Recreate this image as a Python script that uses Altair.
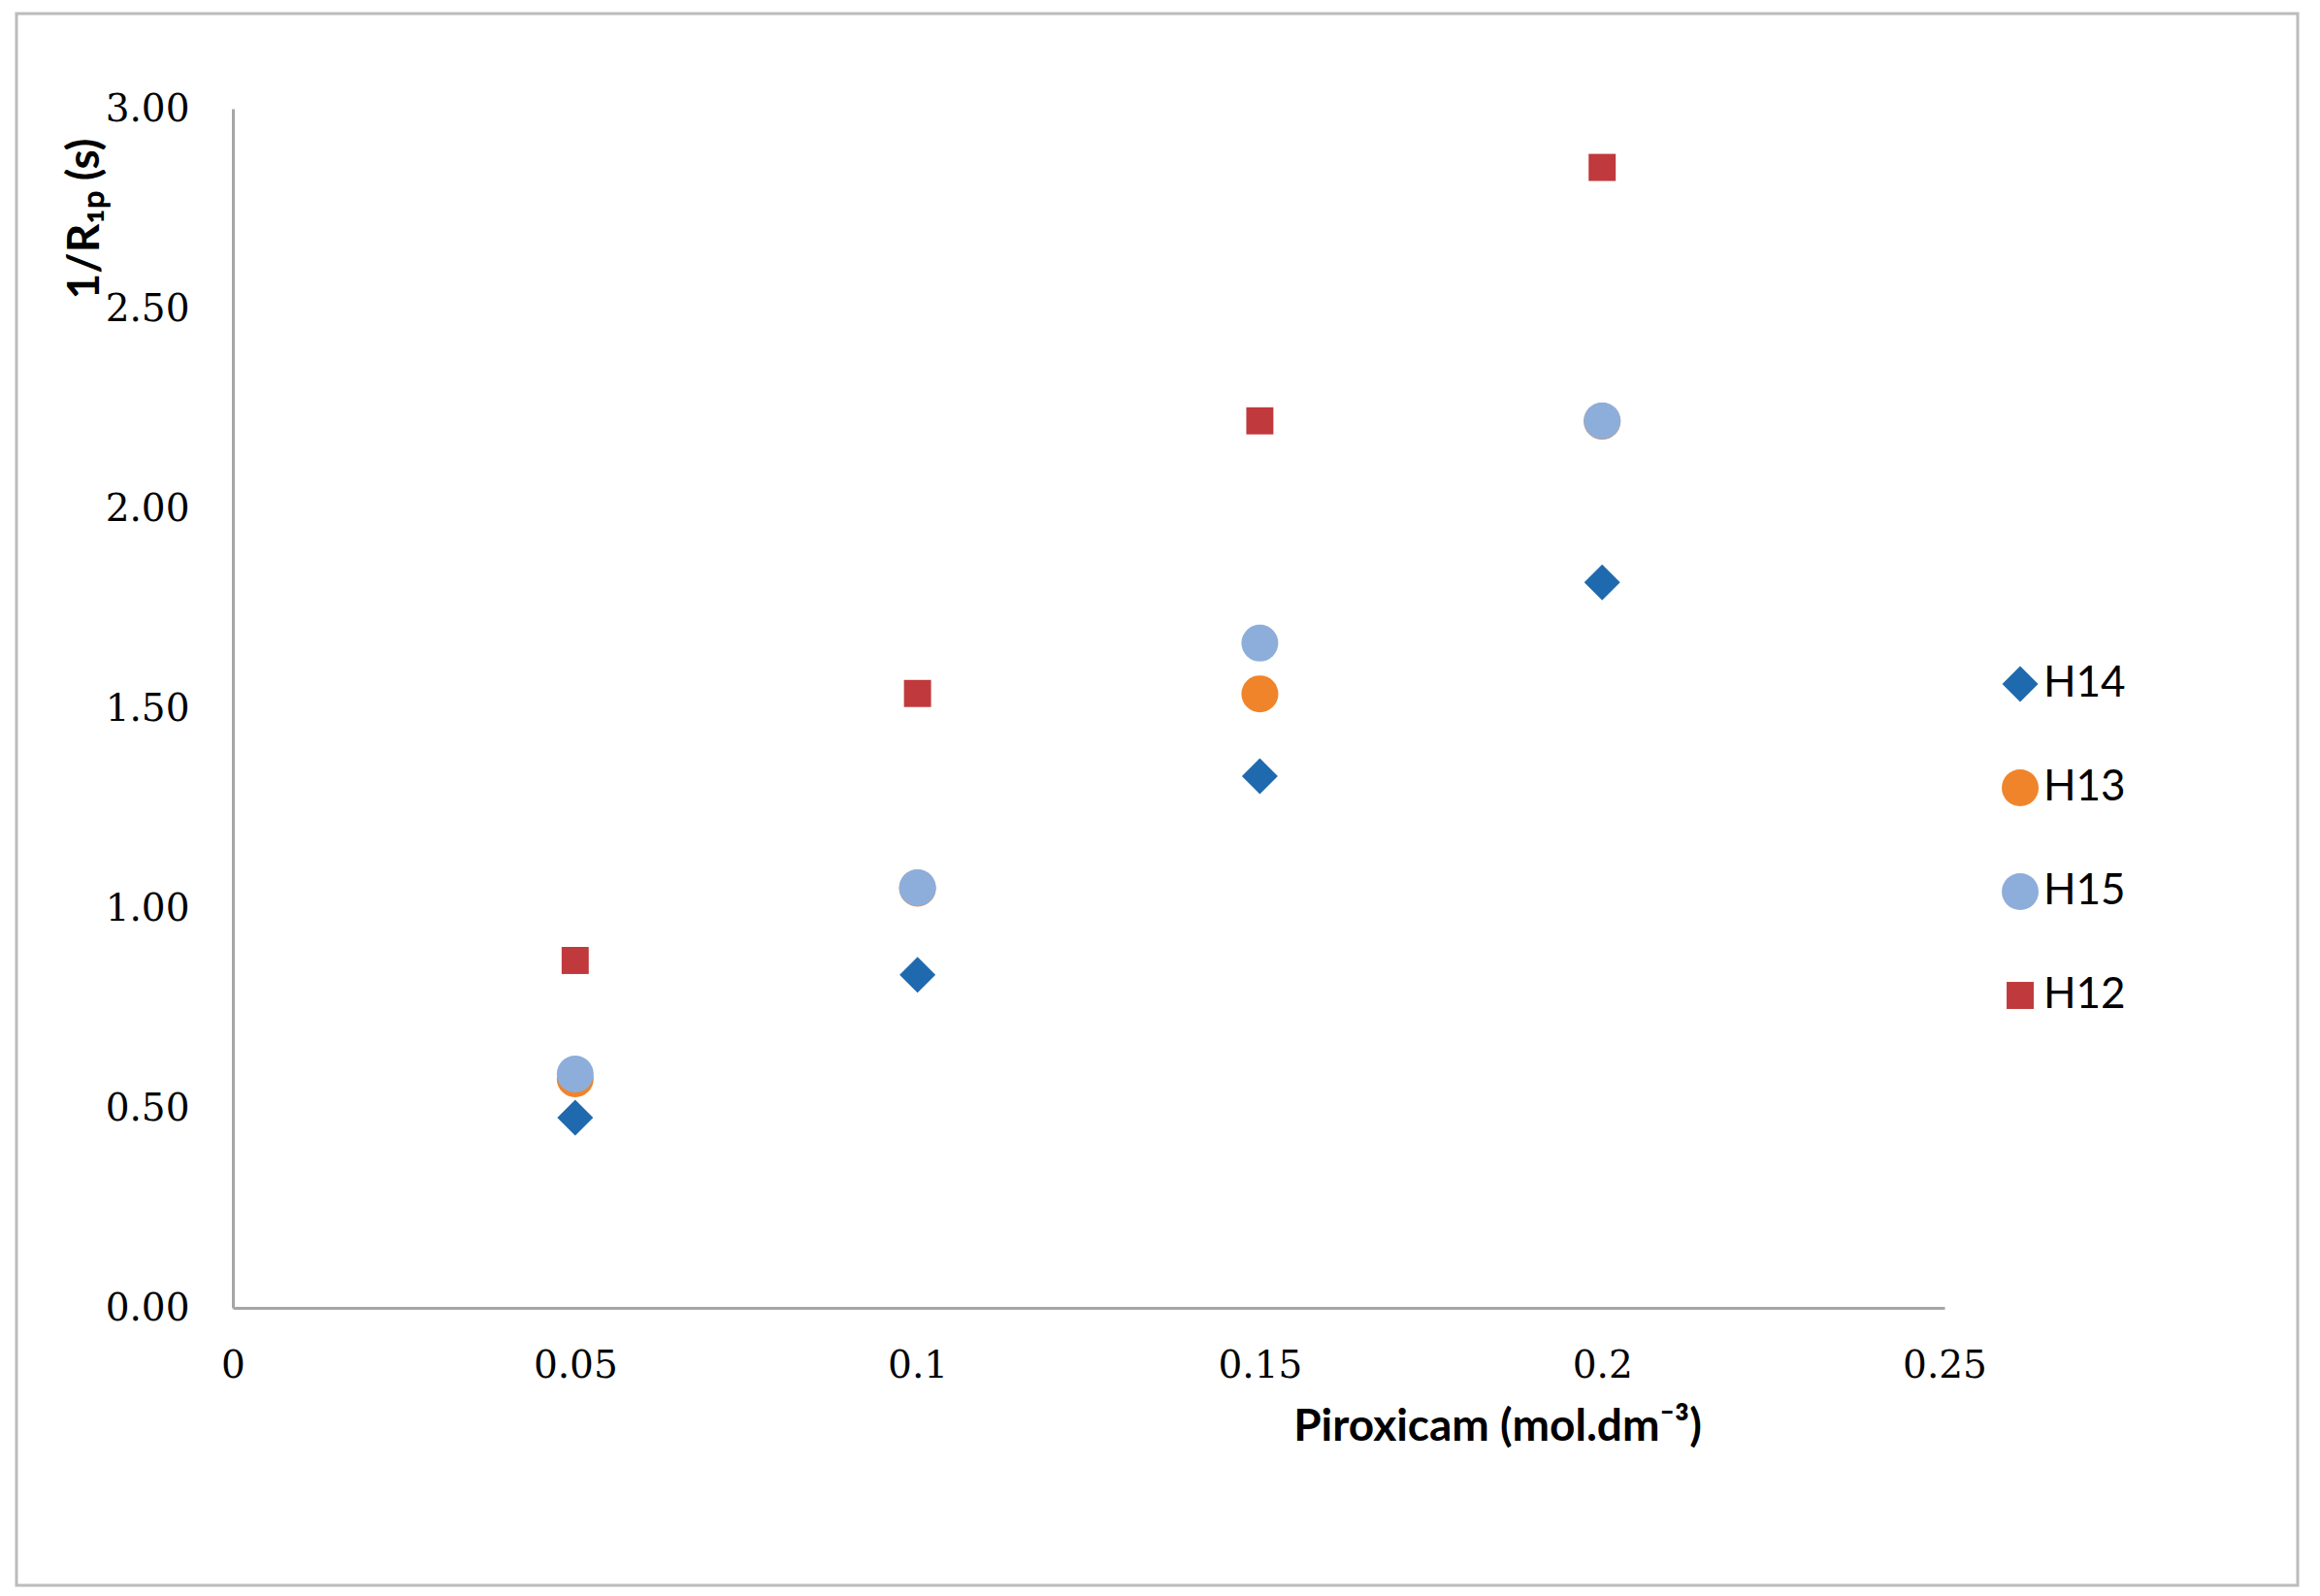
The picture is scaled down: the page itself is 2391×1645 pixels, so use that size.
import altair as alt
import pandas as pd

# ---- data ----
x_vals = [0.05, 0.10, 0.15, 0.20]
series_names = ["H14", "H13", "H15", "H12"]
h14 = [0.476, 0.833, 1.330, 1.815]
h13 = [0.573, 1.050, 1.536, 2.218]
h15 = [0.585, 1.051, 1.663, 2.219]
h12 = [0.869, 1.537, 2.219, 2.853]
x_ticks = [0, 0.05, 0.1, 0.15, 0.2, 0.25]
y_ticks = [0, 0.5, 1.0, 1.5, 2.0, 2.5, 3.0]

colors = ["#1F6AAE", "#F0842A", "#8DAEDB", "#C0393C"]
shapes = ["diamond", "circle", "circle", "square"]
sizes = [1369, 1444, 1444, 780]

rows = []
for si, (name, vals) in enumerate(zip(series_names, [h14, h13, h15, h12])):
    for xv, yv in zip(x_vals, vals):
        rows.append({"conc": xv, "val": yv, "series": name, "ord": si})
df = pd.DataFrame(rows)

legend = alt.Legend(
    orient="none", legendX=1820, legendY=571, title=None,
    symbolSize=1000, symbolStrokeWidth=0, symbolOpacity=1,
    labelFont="Lato", labelFontSize=44, labelColor="#000000",
    rowPadding=63, labelOffset=2, padding=0,
)

points = alt.Chart(df).mark_point(filled=True, opacity=1, strokeWidth=0).encode(
    x=alt.X("conc:Q",
            scale=alt.Scale(domain=[0, 0.25], nice=False),
            axis=alt.Axis(values=x_ticks, format=".2~f", grid=False, ticks=False, tickSize=0,
                          domainColor="#A6A6A6", domainWidth=3,
                          labelFont="DejaVu Serif", labelFontSize=39, labelColor="#000000",
                          labelPadding=40, labelFlush=False, labelOverlap=False,
                          title="Piroxicam (mol.dm⁻³)", titleFont="Lato", titleFontWeight="bold",
                          titleFontSize=46, titleColor="#000000",
                          titleX=1303, titleY=122, titleAlign="center", titleBaseline="middle")),
    y=alt.Y("val:Q",
            scale=alt.Scale(domain=[0, 3], nice=False),
            axis=alt.Axis(values=y_ticks, format=".2f", grid=False, ticks=False, tickSize=0,
                          domainColor="#A6A6A6", domainWidth=3,
                          labelFont="DejaVu Serif", labelFontSize=39, labelColor="#000000",
                          labelPadding=45, labelFlush=False, labelOverlap=False,
                          title="1/R₁ₚ (s)", titleFont="Lato", titleFontWeight="bold",
                          titleFontSize=46, titleColor="#000000",
                          titleX=-153, titleY=113, titleAlign="center", titleBaseline="middle")),
    color=alt.Color("series:N", scale=alt.Scale(domain=series_names, range=colors), legend=legend),
    shape=alt.Shape("series:N", scale=alt.Scale(domain=series_names, range=shapes), legend=legend),
    size=alt.Size("series:N", scale=alt.Scale(type="ordinal", domain=series_names, range=sizes), legend=None),
    order=alt.Order("ord:Q"),
)

frame = alt.Chart(pd.DataFrame({"a": [0]})).mark_rect(
    fillOpacity=0, stroke="#BCBCBC", strokeWidth=3
).encode(
    x=alt.value(-223), x2=alt.value(2128), y=alt.value(-98), y2=alt.value(1522)
)

chart = alt.layer(frame, points).properties(
    width=1764, height=1236,
    autosize=alt.AutoSizeParams(type="none"),
    padding={"left": 232, "top": 104, "right": 371, "bottom": 288},
    background="#FFFFFF",
).configure_view(stroke=None)

chart.save("out.html", embed_options={"renderer": "svg", "actions": False})
